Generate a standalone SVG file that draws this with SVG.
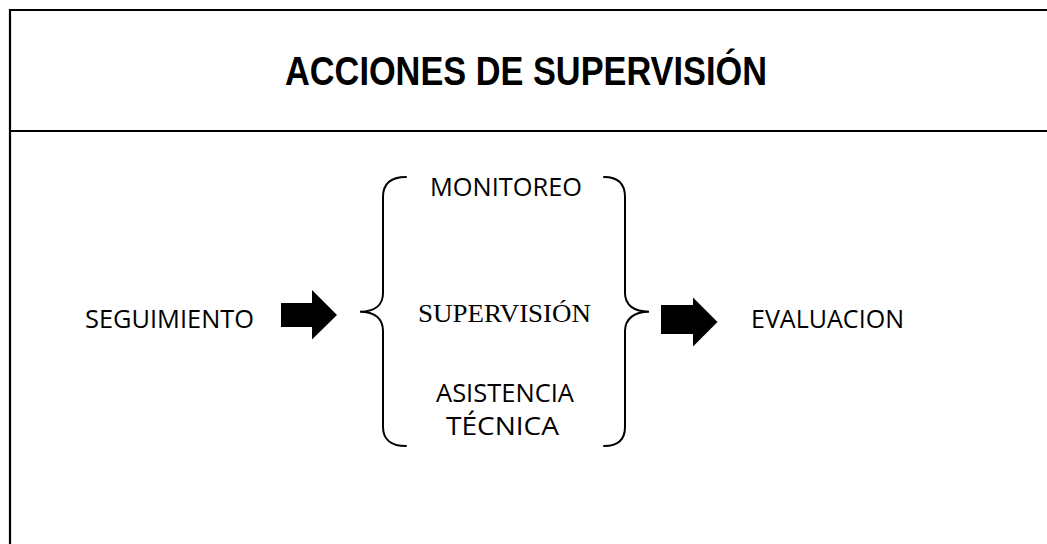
<svg xmlns="http://www.w3.org/2000/svg" width="1047" height="544" viewBox="0 0 1047 544">
<style>
.frame{stroke:#000;stroke-width:2.2;fill:none}
.brace{stroke:#000;stroke-width:2;fill:none;stroke-linecap:round}
.arrow{fill:#000;stroke:none}
.title{font-family:"Liberation Sans",Arial,sans-serif;font-weight:bold;font-size:41px;fill:#000}
.lbl{font-family:"Open Sans","Noto Sans",sans-serif;font-size:25px;fill:#000}
.serif{font-family:"Liberation Serif","Times New Roman",serif;font-size:25px;fill:#000}
</style>
<rect width="1047" height="544" fill="#fff"/>
<g id="frame">
<path class="frame" d="M10 544 L10 10 L1047 10"/>
<path class="frame" d="M10 131 L1047 131"/>
</g>
<g id="title">
<text class="title" x="285" y="85" textLength="482" lengthAdjust="spacingAndGlyphs">ACCIONES DE SUPERVISIÓN</text>
</g>
<g id="seguimiento">
<text class="lbl" x="85" y="328" textLength="169" lengthAdjust="spacingAndGlyphs">SEGUIMIENTO</text>
</g>
<g id="acciones">
<path class="brace" d="M406 177 C392 177 383 183 383 197 L383 293 C383 305 375 311.7 360 311.7 C375 311.7 383 319 383 331 L383 427 C383 440 392 446 406 446"/>
<path class="brace" d="M604 177 C618 177 625 183 625 197 L625 293 C625 305 634 311.7 649 311.7 C634 311.7 625 319 625 331 L625 427 C625 440 618 446 604 446"/>
<text class="lbl" x="430" y="196" textLength="152" lengthAdjust="spacingAndGlyphs">MONITOREO</text>
<text class="serif" x="418" y="322" textLength="173" lengthAdjust="spacingAndGlyphs">SUPERVISIÓN</text>
<text class="lbl" x="436" y="402" textLength="138" lengthAdjust="spacingAndGlyphs">ASISTENCIA</text>
<text class="lbl" x="446" y="435" textLength="113" lengthAdjust="spacingAndGlyphs">TÉCNICA</text>
</g>
<g id="evaluacion">
<text class="lbl" x="751" y="328" textLength="153" lengthAdjust="spacingAndGlyphs">EVALUACION</text>
</g>
<g id="connectors">
<polygon class="arrow" points="281,303 312,303 312,290 337,315 312,339.5 312,327 281,327"/>
<polygon class="arrow" points="661,305 693,305 693,297.5 717.5,322 693,346.5 693,334 661,334"/>
</g>
</svg>
